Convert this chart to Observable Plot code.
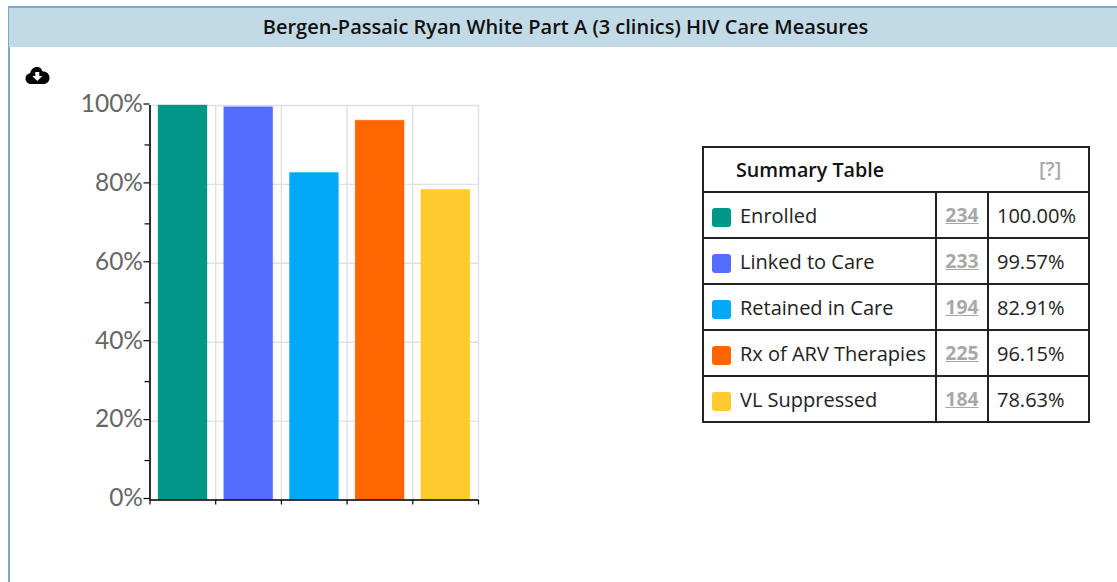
<!DOCTYPE html>
<html>
<head>
<meta charset="utf-8">
<script src="https://cdn.jsdelivr.net/npm/d3@7"></script>
<script src="https://cdn.jsdelivr.net/npm/@observablehq/plot@0.6"></script>
<style>
html,body{margin:0;padding:0;background:#fff;width:1117px;height:582px;overflow:hidden;font-family:"Open Sans",sans-serif}
#panel{position:absolute;left:8px;top:6px;right:-4px;height:600px;border:2px solid #7ba8d0;box-sizing:border-box}
#title{position:absolute;left:9px;top:8px;width:1113px;height:39px;line-height:37px;background:#c1dae6;text-align:center;font-size:20px;font-weight:600;color:#111}
#icon{position:absolute;left:25px;top:66px}
#chart{position:absolute;left:0;top:50px}
table{position:absolute;left:702px;top:146px;width:386px;border-collapse:collapse;table-layout:fixed;font-size:20px;color:#222;background:#fff}
td{border:2px solid #222;padding:0;height:44px;line-height:1}
td.n{text-align:center;font-weight:700;color:#a8a8a8;text-decoration:underline;font-size:19.4px}
td.p{padding-left:8px;padding-top:2px;height:42px}
td.c{padding-left:8px;white-space:nowrap}
.sw{display:inline-block;width:19px;height:19px;border-radius:3px;vertical-align:-2px;margin-right:9px;position:relative;top:3px}
.t{position:relative;top:1px}
th{border:2px solid #222;height:43px;padding:0;text-align:left;font-size:19.7px;font-weight:600;color:#111;position:relative}
th span{position:absolute;left:32px;top:8px}
th u{position:absolute;left:335px;top:7px;color:#a8a8a8;font-weight:600;font-size:20px}
</style>
</head>
<body>
<div id="panel"></div>
<div id="title"></div>
<svg id="icon" width="25" height="19" viewBox="0 0 25 19"><path fill="#000" d="M12 1c3 0 5 2 5.600 4.600C21.500 5.300 24.500 8 24.500 12c0 3.500-2.800 6-6 6H6c-3.200 0-5.500-2.500-5.500-5.500 0-2.800 2-4.800 4.600-5.200C5.800 3.500 8.500 1 12 1z"/><path fill="#fff" d="M10.300 6h4v4h3l-5 5-5-5h3z"/></svg>
<div id="chart"></div>
<table id="summary"></table>
<script>
const titleText = "Bergen-Passaic Ryan White Part A (3 clinics) HIV Care Measures";
const categories = ["Enrolled", "Linked to Care", "Retained in Care", "Rx of ARV Therapies", "VL Suppressed"];
const counts = [234, 233, 194, 225, 184];
const percents = [100.00, 99.57, 82.91, 96.15, 78.63];
const colors = ["#009688", "#536dfe", "#03a9f9", "#ff6600", "#ffca2d"];
const yMajor = [0, 20, 40, 60, 80, 100];
const yMinor = [10, 30, 50, 70, 90];
const xEdges = [0, 1, 2, 3, 4, 5];

document.getElementById("title").textContent = titleText;
const rows = categories.map((c, i) => ({i, c, n: counts[i], p: percents[i], color: colors[i]}));

const chart = Plot.plot({
  width: 520,
  height: 480,
  marginLeft: 149.5,
  marginRight: 42,
  marginTop: 55,
  marginBottom: 30.5,
  style: {background: "transparent", overflow: "visible"},
  x: {domain: [0, 5], label: null},
  y: {domain: [0, 100], label: null},
  marks: [
    Plot.ruleY(yMajor, {stroke: "#e0e0e0", strokeWidth: 1.4}),
    Plot.ruleX(xEdges, {stroke: "#e0e0e0", strokeWidth: 1.4}),
    Plot.rectY(rows, {
      x1: d => d.i + 0.13, x2: d => d.i + 0.875, y1: 0, y2: "p",
      fill: "color", stroke: "color", strokeOpacity: 0.35, strokeWidth: 1
    }),
    Plot.axisY({ticks: yMajor, tickFormat: d => d + "%", tickSize: 6, tickPadding: 1, fontSize: 24.5, dy: -1.5,
      fontFamily: "Lato", stroke: "#000", fill: "#666", label: null, strokeWidth: 1.2}),
    Plot.axisY({ticks: yMinor, tickFormat: () => "", tickSize: 5, stroke: "#000", label: null, strokeWidth: 1.2}),
    Plot.axisX({ticks: xEdges, tickFormat: () => "", tickSize: 5, stroke: "#000", label: null, strokeWidth: 1.2}),
    Plot.ruleX([0], {stroke: "#000", strokeWidth: 1.6}),
    Plot.ruleY([0], {stroke: "#000", strokeWidth: 1.6})
  ]
});
document.getElementById("chart").append(chart);

const table = d3.select("#summary");
const cg = table.append("colgroup");
[233, 52, 101].forEach(w => cg.append("col").style("width", w + "px"));
const head = table.append("tr").append("th").attr("colspan", 3);
head.append("span").text("Summary Table");
head.append("u").style("text-decoration", "none").text("[?]");
rows.forEach(d => {
  const tr = table.append("tr");
  const c = tr.append("td").attr("class", "c");
  c.append("span").attr("class", "sw").style("background", d.color);
  c.append("span").attr("class", "t").text(d.c);
  tr.append("td").attr("class", "n").text(d.n);
  tr.append("td").attr("class", "p").text(d.p.toFixed(2) + "%");
});
</script>
</body>
</html>
